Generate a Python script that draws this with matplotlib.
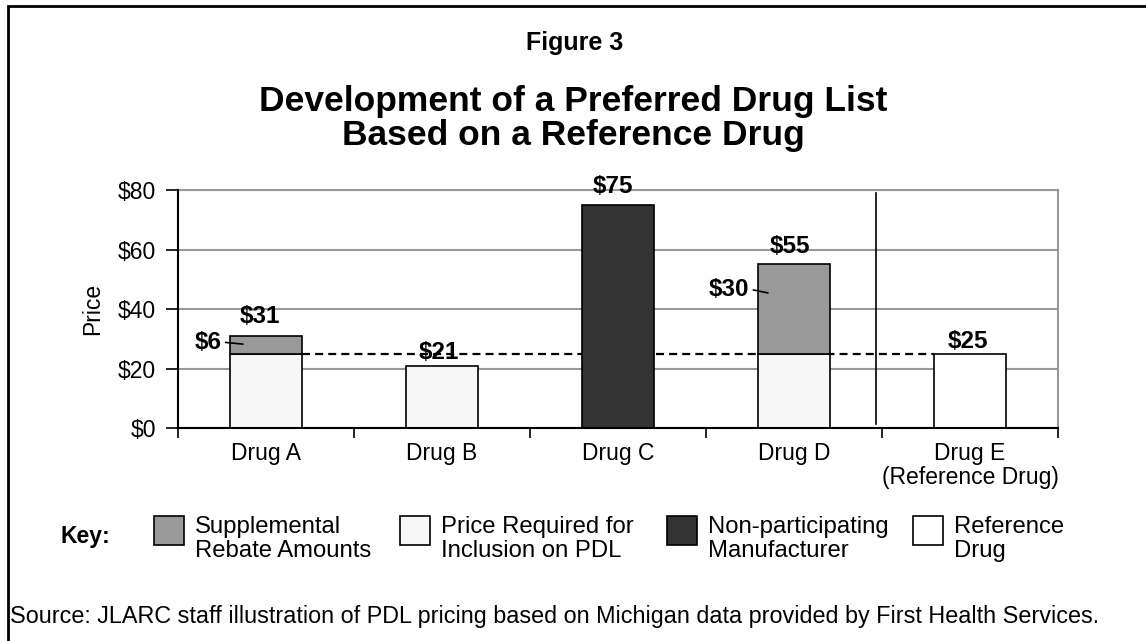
import numpy as np
import matplotlib
matplotlib.use('Agg')
import matplotlib.pyplot as plt
from matplotlib.patches import Rectangle

plt.rcParams['font.family'] = ['Liberation Sans', 'DejaVu Sans']

# data
drugs = ['Drug A', 'Drug B', 'Drug C', 'Drug D', 'Drug E\n(Reference Drug)']
pdl_price = [25, 21, 0, 25, 0]     # price required for inclusion on PDL
rebate = [6, 0, 0, 30, 0]          # supplemental rebate amounts
nonpart = [0, 0, 75, 0, 0]         # non-participating manufacturer
reference = [0, 0, 0, 0, 25]       # reference drug
ref_price = 25
yticks = [0, 20, 40, 60, 80]

c_rebate = '#999999'
c_pdl = '#f7f7f7'
c_non = '#333333'
c_ref = '#ffffff'

W, H = 1146, 641
fig = plt.figure(figsize=(W / 100, H / 100), dpi=100)

# outer border
fig.patches.append(Rectangle((8 / W, -0.1), 1.2, 1 - 6 / H + 0.1, transform=fig.transFigure,
                             fill=False, edgecolor='black', linewidth=2))

ax = fig.add_axes([178 / W, 1 - 428 / H, 880 / W, 238 / H])
x = np.arange(len(drugs))
w = 0.41

for i in x:
    bottom = 0
    for vals, col in [(pdl_price, c_pdl), (rebate, c_rebate), (nonpart, c_non), (reference, c_ref)]:
        if vals[i] > 0:
            ax.bar(i, vals[i], w, bottom=bottom, color=col, edgecolor='black', linewidth=1.2, zorder=3)
            bottom += vals[i]

totals = [a + b + c + d for a, b, c, d in zip(pdl_price, rebate, nonpart, reference)]

# dashed reference price line
ax.plot([0 + w / 2, 4 - w / 2], [ref_price, ref_price], color='black', linestyle=(0, (3.6, 2.3)),
        linewidth=1.6, zorder=2)

# separator before the reference drug
sep = 3.5 - 0.035
ax.plot([sep, sep], [1.5, 79], color='black', linewidth=1.2, zorder=2)

lab_font = dict(fontsize=17.5, fontweight='bold', ha='center', va='center')
lab_off = [(-6, 19), (-3, 13), (-5, 18), (-4, 18), (-2, 12)]
for i in x:
    ax.annotate(f'${totals[i]}', (i, totals[i]), xytext=lab_off[i], textcoords='offset pixels',
                zorder=5, **lab_font)

# rebate labels with leader lines
reb_text = {0: (-0.33, 28.9), 3: (2.63, 46.7)}
reb_tip = {0: (-0.131, 28.2), 3: (2.852, 45.4)}
for i, (tx, ty) in reb_text.items():
    ax.annotate(f'${rebate[i]}', reb_tip[i], xytext=(tx, ty), textcoords='data', zorder=5,
                arrowprops=dict(arrowstyle='-', color='black', lw=1.2, shrinkA=1, shrinkB=0,
                                relpos=(1, 0.5)), **lab_font)

ax.set_xlim(-0.5, 4.5)
ax.set_ylim(0, 80)
ax.set_yticks(yticks)
ax.set_yticklabels([f'${v}' for v in yticks], fontsize=16.5)
ax.set_xticks(x)
ax.set_xticklabels(drugs, fontsize=16.5, linespacing=1.05)
ax.set_xticks(np.arange(-0.5, 5, 1), minor=True)
ax.tick_params(axis='x', which='major', length=0, pad=10)
ax.tick_params(axis='x', which='minor', length=7, width=1.2, direction='out')
ax.tick_params(axis='y', length=9, width=1.2, direction='out', pad=7)
ax.yaxis.grid(True, color='#999999', linewidth=1.5, zorder=0)
ax.set_axisbelow(True)
for s in ['left', 'bottom']:
    ax.spines[s].set_linewidth(1.5)
    ax.spines[s].set_zorder(4)
for s in ['top', 'right']:
    ax.spines[s].set_color('#999999')
    ax.spines[s].set_linewidth(1.5)
ax.set_ylabel('Price', fontsize=16.5, labelpad=10)

# titles
fig.text(575 / W, 1 - 43 / H, 'Figure 3', fontsize=18, fontweight='bold', ha='center', va='center')
fig.text(573 / W, 1 - 102 / H, 'Development of a Preferred Drug List', fontsize=25.5,
         fontweight='bold', ha='center', va='center')
fig.text(573 / W, 1 - 136 / H, 'Based on a Reference Drug', fontsize=25.5,
         fontweight='bold', ha='center', va='center')

# key
fig.text(85 / W, 1 - 537 / H, 'Key:', fontsize=16.5, fontweight='bold', ha='center', va='center')
key_labels = ['Supplemental\nRebate Amounts', 'Price Required for\nInclusion on PDL',
              'Non-participating\nManufacturer', 'Reference\nDrug']
key_colors = [c_rebate, c_pdl, c_non, c_ref]
key_x = [154, 400, 667, 913]
for kx, lab, col in zip(key_x, key_labels, key_colors):
    fig.patches.append(Rectangle((kx / W, 1 - 545 / H), 30 / W, 29 / H, transform=fig.transFigure,
                                 facecolor=col, edgecolor='black', linewidth=1.2))
    fig.text((kx + 41) / W, 1 - 539 / H, lab, fontsize=17.2, ha='left', va='center', linespacing=1.15)

fig.text(10 / W, 1 - 616 / H, 'Source: JLARC staff illustration of PDL pricing based on Michigan data '
         'provided by First Health Services.', fontsize=16.8, ha='left', va='center')

fig.savefig('out.png', dpi=100)
